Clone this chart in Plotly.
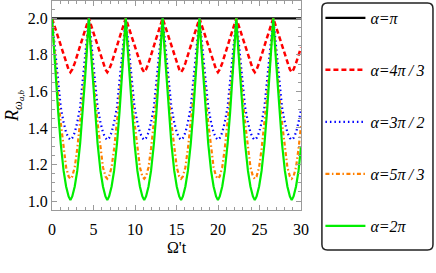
import plotly.graph_objects as go

# time axis (Ω't)
t = [
    0.00, 0.20, 0.45, 0.75, 1.05, 1.40, 1.70, 2.00, 2.22, 2.44, 2.74, 3.04, 3.39, 3.69, 3.99, 4.24,
    4.44, 4.64, 4.89, 5.19, 5.49, 5.84, 6.14, 6.44, 6.66, 6.88, 7.18, 7.48, 7.83, 8.13, 8.43, 8.68,
    8.89, 9.09, 9.34, 9.64, 9.94, 10.29, 10.59, 10.89, 11.11, 11.33, 11.63, 11.93, 12.28, 12.58, 12.88, 13.13,
    13.33, 13.53, 13.78, 14.08, 14.38, 14.73, 15.03, 15.33, 15.55, 15.77, 16.07, 16.37, 16.72, 17.02, 17.32, 17.57,
    17.77, 17.97, 18.22, 18.52, 18.82, 19.17, 19.47, 19.77, 19.99, 20.21, 20.51, 20.81, 21.16, 21.46, 21.76, 22.01,
    22.21, 22.41, 22.66, 22.96, 23.26, 23.61, 23.91, 24.21, 24.43, 24.65, 24.95, 25.25, 25.60, 25.90, 26.20, 26.45,
    26.66, 26.86, 27.11, 27.41, 27.71, 28.06, 28.36, 28.66, 28.88, 29.10, 29.40, 29.70, 30.00,
]

t_pi = [0.0, 30.0]
r_pi = [2.0, 2.0]

r_4pi3 = [
    2.0, 1.972, 1.936, 1.893, 1.848, 1.795, 1.755, 1.72, 1.705, 1.72, 1.755, 1.795, 1.848, 1.893, 1.936, 1.972,
    2.0, 1.972, 1.936, 1.893, 1.848, 1.795, 1.755, 1.72, 1.705, 1.72, 1.755, 1.795, 1.848, 1.893, 1.936, 1.972,
    2.0, 1.972, 1.936, 1.893, 1.848, 1.795, 1.755, 1.72, 1.705, 1.72, 1.755, 1.795, 1.848, 1.893, 1.936, 1.972,
    2.0, 1.972, 1.936, 1.893, 1.848, 1.795, 1.755, 1.72, 1.705, 1.72, 1.755, 1.795, 1.848, 1.893, 1.936, 1.972,
    2.0, 1.972, 1.936, 1.893, 1.848, 1.795, 1.755, 1.72, 1.705, 1.72, 1.755, 1.795, 1.848, 1.893, 1.936, 1.972,
    2.0, 1.972, 1.936, 1.893, 1.848, 1.795, 1.755, 1.72, 1.705, 1.72, 1.755, 1.795, 1.848, 1.893, 1.936, 1.972,
    2.0, 1.972, 1.936, 1.893, 1.848, 1.795, 1.755, 1.72, 1.705, 1.72, 1.755, 1.795, 1.84,
]

r_3pi2 = [
    2.0, 1.91, 1.80, 1.655, 1.515, 1.43, 1.375, 1.345, 1.335, 1.345, 1.375, 1.43, 1.515, 1.655, 1.80, 1.91,
    2.0, 1.91, 1.80, 1.655, 1.515, 1.43, 1.375, 1.345, 1.335, 1.345, 1.375, 1.43, 1.515, 1.655, 1.80, 1.91,
    2.0, 1.91, 1.80, 1.655, 1.515, 1.43, 1.375, 1.345, 1.335, 1.345, 1.375, 1.43, 1.515, 1.655, 1.80, 1.91,
    2.0, 1.91, 1.80, 1.655, 1.515, 1.43, 1.375, 1.345, 1.335, 1.345, 1.375, 1.43, 1.515, 1.655, 1.80, 1.91,
    2.0, 1.91, 1.80, 1.655, 1.515, 1.43, 1.375, 1.345, 1.335, 1.345, 1.375, 1.43, 1.515, 1.655, 1.80, 1.91,
    2.0, 1.91, 1.80, 1.655, 1.515, 1.43, 1.375, 1.345, 1.335, 1.345, 1.375, 1.43, 1.515, 1.655, 1.80, 1.91,
    2.0, 1.91, 1.80, 1.655, 1.515, 1.43, 1.375, 1.345, 1.335, 1.345, 1.375, 1.43, 1.50,
]

r_5pi3 = [
    2.0, 1.87, 1.72, 1.565, 1.43, 1.285, 1.185, 1.135, 1.122, 1.135, 1.185, 1.285, 1.43, 1.565, 1.72, 1.87,
    2.0, 1.87, 1.72, 1.565, 1.43, 1.285, 1.185, 1.135, 1.122, 1.135, 1.185, 1.285, 1.43, 1.565, 1.72, 1.87,
    2.0, 1.87, 1.72, 1.565, 1.43, 1.285, 1.185, 1.135, 1.122, 1.135, 1.185, 1.285, 1.43, 1.565, 1.72, 1.87,
    2.0, 1.87, 1.72, 1.565, 1.43, 1.285, 1.185, 1.135, 1.122, 1.135, 1.185, 1.285, 1.43, 1.565, 1.72, 1.87,
    2.0, 1.87, 1.72, 1.565, 1.43, 1.285, 1.185, 1.135, 1.122, 1.135, 1.185, 1.285, 1.43, 1.565, 1.72, 1.87,
    2.0, 1.87, 1.72, 1.565, 1.43, 1.285, 1.185, 1.135, 1.122, 1.135, 1.185, 1.285, 1.43, 1.565, 1.72, 1.87,
    2.0, 1.87, 1.72, 1.565, 1.43, 1.285, 1.185, 1.135, 1.122, 1.135, 1.185, 1.285, 1.41,
]

r_2pi = [
    2.0, 1.85, 1.675, 1.485, 1.315, 1.165, 1.08, 1.025, 1.005, 1.025, 1.08, 1.165, 1.315, 1.485, 1.675, 1.85,
    2.0, 1.85, 1.675, 1.485, 1.315, 1.165, 1.08, 1.025, 1.005, 1.025, 1.08, 1.165, 1.315, 1.485, 1.675, 1.85,
    2.0, 1.85, 1.675, 1.485, 1.315, 1.165, 1.08, 1.025, 1.005, 1.025, 1.08, 1.165, 1.315, 1.485, 1.675, 1.85,
    2.0, 1.85, 1.675, 1.485, 1.315, 1.165, 1.08, 1.025, 1.005, 1.025, 1.08, 1.165, 1.315, 1.485, 1.675, 1.85,
    2.0, 1.85, 1.675, 1.485, 1.315, 1.165, 1.08, 1.025, 1.005, 1.025, 1.08, 1.165, 1.315, 1.485, 1.675, 1.85,
    2.0, 1.85, 1.675, 1.485, 1.315, 1.165, 1.08, 1.025, 1.005, 1.025, 1.08, 1.165, 1.315, 1.485, 1.675, 1.85,
    2.0, 1.85, 1.675, 1.485, 1.315, 1.165, 1.08, 1.025, 1.005, 1.025, 1.08, 1.165, 1.295,
]

names = ["α=π", "α=4π\u2009/\u20093", "α=3π\u2009/\u20092", "α=5π\u2009/\u20093", "α=2π"]
x_ticks = [0, 5, 10, 15, 20, 25, 30]
y_ticks = [1.0, 1.2, 1.4, 1.6, 1.8, 2.0]
y_tick_labels = ["1.0", "1.2", "1.4", "1.6", "1.8", "2.0"]

FONT = "Liberation Serif, Times New Roman, Times, serif"

fig = go.Figure()
series = [
    (t_pi, r_pi, dict(color="#000000", width=2.4, dash="solid")),
    (t, r_4pi3, dict(color="#ff0000", width=2.5, dash="5px,3px")),
    (t, r_3pi2, dict(color="#0000ff", width=2.2, dash="1.5px,3px")),
    (t, r_5pi3, dict(color="#ff8000", width=2.2, dash="4px,2.5px,1.5px,2.5px")),
    (t, r_2pi, dict(color="#00ee00", width=2.2, dash="solid")),
]
legend_ids = ["legend", "legend2", "legend3", "legend4", "legend5"]
for (xs, ys, ln), nm, lg in zip(series, names, legend_ids):
    fig.add_trace(go.Scatter(x=xs, y=ys, mode="lines", line=ln,
                             name="<i>" + nm + "</i>", legend=lg))

# rounded legend frame
x0, x1, y0, y1 = 1.084, 1.530, -0.191, 0.990
rx, ry = 0.022, 0.026
path = (f"M {x0+rx},{y0} L {x1-rx},{y0} Q {x1},{y0} {x1},{y0+ry} "
        f"L {x1},{y1-ry} Q {x1},{y1} {x1-rx},{y1} L {x0+rx},{y1} "
        f"Q {x0},{y1} {x0},{y1-ry} L {x0},{y0+ry} Q {x0},{y0} {x0+rx},{y0} Z")
fig.add_shape(type="path", path=path, xref="paper", yref="paper",
              line=dict(color="#222222", width=1.5))

axis_common = dict(
    showline=True, linecolor="#9a9a9a", linewidth=1, mirror="ticks",
    ticks="inside", tickcolor="#9a9a9a", ticklen=5, tickwidth=1,
    showgrid=False, zeroline=False,
    tickfont=dict(family=FONT, size=16, color="#000000"),
)

legend_y = [0.9187, 0.670, 0.421, 0.172, -0.0766]
legend_layout = {}
for lg, ly in zip(legend_ids, legend_y):
    legend_layout[lg] = dict(x=1.078, y=ly, xanchor="left", yanchor="middle",
                             bgcolor="rgba(0,0,0,0)", borderwidth=0,
                             font=dict(family=FONT, size=16), itemwidth=40)

fig.update_layout(
    width=436, height=273,
    margin=dict(l=52, r=135, t=1, b=63, autoexpand=False),
    paper_bgcolor="white", plot_bgcolor="white",
    font=dict(family=FONT, size=16, color="#000000"),
    showlegend=True,
    xaxis=dict(range=[0, 30], tickvals=x_ticks, ticklabelstandoff=5,
               minor=dict(ticks="inside", dtick=1, ticklen=3, tickcolor="#9a9a9a"),
               title=dict(text="Ω't", font=dict(family=FONT, size=16), standoff=4),
               **axis_common),
    yaxis=dict(range=[0.951, 2.095], tickvals=y_ticks, ticktext=y_tick_labels,
               minor=dict(ticks="inside", dtick=0.05, tick0=1.0, ticklen=3, tickcolor="#9a9a9a"),
               title=dict(text="<i>R</i><sub><i>ω</i><sub><i>a,b</i></sub></sub>",
                          font=dict(family=FONT, size=18), standoff=4),
               **axis_common),
    **legend_layout,
)

fig.write_html("out.html", config={"displayModeBar": False},
               post_script="document.body.style.margin='0';")
